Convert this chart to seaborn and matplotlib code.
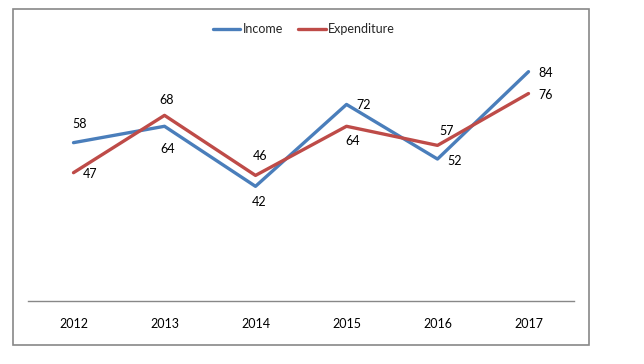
import matplotlib
matplotlib.use("Agg")
import matplotlib.pyplot as plt
import seaborn as sns
import pandas as pd
from matplotlib.patches import Rectangle

years = ["2012", "2013", "2014", "2015", "2016", "2017"]
income = [58, 64, 42, 72, 52, 84]
expenditure = [47, 68, 46, 64, 57, 76]
series_names = ["Income", "Expenditure"]

# label offsets in pixels (dx, dy up-positive)
income_offsets = [(6, 19), (3, -23), (4, -16), (17, -1), (17, -2), (17, -1)]
exp_offsets = [(17, -1), (2, 15), (5, 19), (6, -15), (9, 14), (17, -1)]

sns.set_style("white")
plt.rcParams["font.family"] = ["Lato", "DejaVu Sans"]
FS = 9

df = pd.DataFrame({
    "Year": years * 2,
    "x": list(range(len(years))) * 2,
    "Value": income + expenditure,
    "Series": [series_names[0]] * len(years) + [series_names[1]] * len(years),
})

fig = plt.figure(figsize=(6.44, 3.64), dpi=100)
ax = fig.add_axes([28 / 644, (364 - 301) / 364, 546 / 644, 273 / 364])

colors = {"Income": "#4A7EBB", "Expenditure": "#BE4B48"}
sns.lineplot(data=df, x="x", y="Value", hue="Series", palette=colors,
             linewidth=2.4, ax=ax, legend=True, sort=False)

ax.set_xlim(-0.5, len(years) - 0.5)
ax.set_ylim(0, 100)
ax.set_xticks(range(len(years)))
ax.set_xticklabels(years, fontsize=FS, color="black")
ax.tick_params(axis="x", length=0, pad=12)
ax.set_yticks([])
ax.set_xlabel("")
ax.set_ylabel("")
for s in ["top", "right", "left"]:
    ax.spines[s].set_visible(False)
ax.spines["bottom"].set_color("#888888")
ax.spines["bottom"].set_linewidth(1.0)

for i, v in enumerate(income):
    ax.annotate(str(v), (i, v), xytext=income_offsets[i], textcoords="offset pixels",
                ha="center", va="center", fontsize=FS, color="black")
for i, v in enumerate(expenditure):
    ax.annotate(str(v), (i, v), xytext=exp_offsets[i], textcoords="offset pixels",
                ha="center", va="center", fontsize=FS, color="black")

handles, labels = ax.get_legend_handles_labels()
ax.legend_.remove()
leg = fig.legend(handles, labels, loc="center", bbox_to_anchor=(304 / 644, (364 - 29) / 364),
                 ncol=2, frameon=False, fontsize=FS, handlelength=2.2,
                 handletextpad=0.2, columnspacing=1.2)

fig.patches.append(Rectangle((13 / 644, (364 - 345) / 364), 576 / 644, 336 / 364,
                             transform=fig.transFigure, fill=False,
                             edgecolor="#888888", linewidth=1.2))

fig.savefig("out.png", dpi=100)
